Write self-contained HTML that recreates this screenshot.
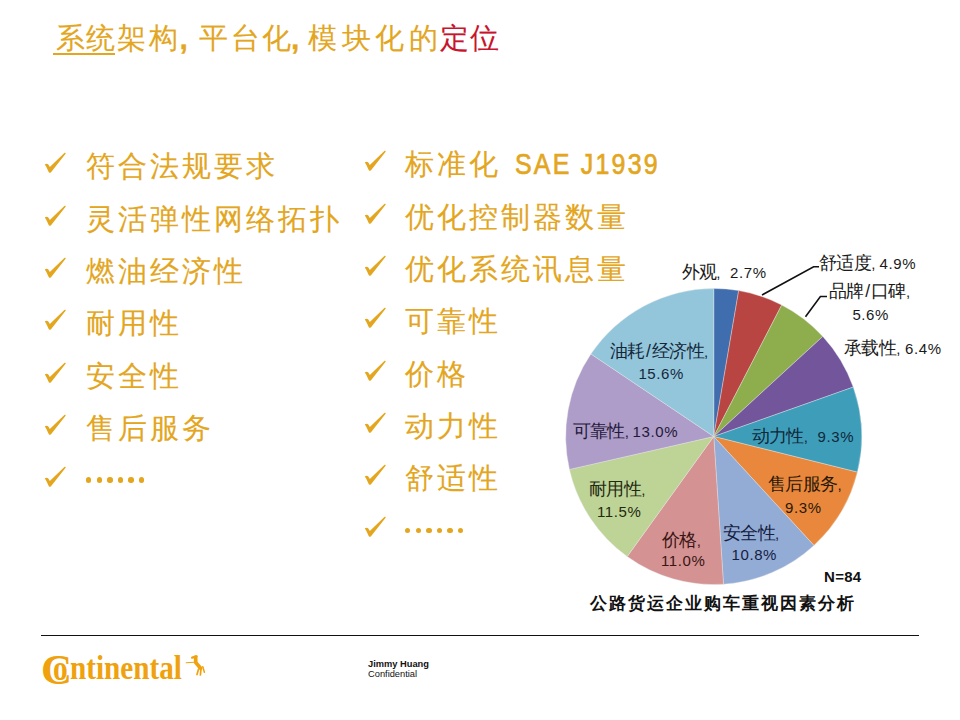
<!DOCTYPE html>
<html><head><meta charset="utf-8">
<style>
html,body{margin:0;padding:0;}
body{width:960px;height:720px;position:relative;overflow:hidden;background:#fff;font-family:"Liberation Sans",sans-serif;}
.a{position:absolute;}
.tc{position:absolute;top:20px;font-size:28.5px;line-height:36px;color:#E3A61E;white-space:nowrap;font-weight:500;-webkit-text-stroke:0.1px currentColor;}
.tc.red{color:#C8142C;}
.tc.cm{font-size:30px;font-weight:bold;top:21px;-webkit-text-stroke:0.3px currentColor;}
.ul{position:absolute;left:52.5px;top:53px;width:62.5px;height:1.6px;background:#E3A61E;}
.bt{position:absolute;font-size:29px;line-height:30px;letter-spacing:3.0px;color:#E3A61E;white-space:nowrap;font-weight:500;-webkit-text-stroke:0.12px #E3A61E;}
.bt .lat{display:inline-block;font-family:"Liberation Sans",sans-serif;font-size:29px;letter-spacing:2.6px;margin-left:14px;-webkit-text-stroke:0.7px #E3A61E;transform:scaleX(0.86);transform-origin:0 50%;}
.dots{position:absolute;height:6px;white-space:nowrap;}
.dots i{display:inline-block;width:5.4px;height:5.4px;border-radius:50%;background:#E3A61E;margin-right:5.2px;vertical-align:top;}
.pl{position:absolute;font-size:15px;line-height:22px;letter-spacing:0.6px;white-space:nowrap;}
.pl .cj{font-size:17.5px;letter-spacing:-0.6px;}
.pl .sl{margin:0 1.5px;}
.ptitle{position:absolute;left:590px;top:591.5px;font-size:17px;line-height:24px;letter-spacing:2.0px;font-weight:900;color:#111;white-space:nowrap;}
.n84{position:absolute;left:824px;top:567.5px;font-size:15px;line-height:18px;font-weight:bold;color:#111;letter-spacing:0.3px;}
.hr{position:absolute;left:41px;top:634.5px;width:878px;height:1.6px;background:#111;}
.logo{position:absolute;left:0;top:0;font-family:"Liberation Serif",serif;font-weight:bold;color:#EFA20E;white-space:nowrap;}
.lC{position:absolute;left:41px;top:648px;font-size:43px;line-height:43px;}
.lo{position:absolute;left:53px;top:651.5px;font-size:35px;line-height:34px;transform:scaleX(0.84);transform-origin:0 0;}
.lrest{position:absolute;left:70px;top:652px;font-size:33px;line-height:33px;transform:scaleX(0.885);transform-origin:0 0;}
.jh{position:absolute;left:368px;top:658.5px;font-size:9.3px;line-height:10.5px;color:#111;}
</style></head><body>
<span class="tc" style="left:55.5px">系</span>
<span class="tc" style="left:85.5px">统</span>
<span class="tc" style="left:117.0px">架</span>
<span class="tc" style="left:148.9px">构</span>
<span class="tc cm" style="left:179.6px">,</span>
<span class="tc" style="left:198.9px">平</span>
<span class="tc" style="left:231.2px">台</span>
<span class="tc" style="left:261.5px">化</span>
<span class="tc cm" style="left:291.0px">,</span>
<span class="tc" style="left:308.2px">模</span>
<span class="tc" style="left:341.5px">块</span>
<span class="tc" style="left:374.5px">化</span>
<span class="tc" style="left:408.5px">的</span>
<span class="tc red" style="left:439.5px">定</span>
<span class="tc red" style="left:469.5px">位</span>
<div class="ul"></div>
<svg class="a" style="left:44px;top:151.3px" width="24" height="24" viewBox="0 0 24 24"><path d="M0.8,13.4 C2.6,11.8 4.6,12.8 5.8,16 L20.6,1.8 C21.2,1.5 21.9,2.1 21.6,2.8 L8.2,19.8 C7.2,21.5 6,22.3 5,21.6 C4.1,20 2.6,15.6 0.8,13.4 Z" fill="#E3A61E"/></svg>
<div class="bt" style="left:86px;top:151.3px">符合法规要求</div>
<svg class="a" style="left:44px;top:203.6px" width="24" height="24" viewBox="0 0 24 24"><path d="M0.8,13.4 C2.6,11.8 4.6,12.8 5.8,16 L20.6,1.8 C21.2,1.5 21.9,2.1 21.6,2.8 L8.2,19.8 C7.2,21.5 6,22.3 5,21.6 C4.1,20 2.6,15.6 0.8,13.4 Z" fill="#E3A61E"/></svg>
<div class="bt" style="left:86px;top:203.6px">灵活弹性网络拓扑</div>
<svg class="a" style="left:44px;top:255.9px" width="24" height="24" viewBox="0 0 24 24"><path d="M0.8,13.4 C2.6,11.8 4.6,12.8 5.8,16 L20.6,1.8 C21.2,1.5 21.9,2.1 21.6,2.8 L8.2,19.8 C7.2,21.5 6,22.3 5,21.6 C4.1,20 2.6,15.6 0.8,13.4 Z" fill="#E3A61E"/></svg>
<div class="bt" style="left:86px;top:255.9px">燃油经济性</div>
<svg class="a" style="left:44px;top:308.2px" width="24" height="24" viewBox="0 0 24 24"><path d="M0.8,13.4 C2.6,11.8 4.6,12.8 5.8,16 L20.6,1.8 C21.2,1.5 21.9,2.1 21.6,2.8 L8.2,19.8 C7.2,21.5 6,22.3 5,21.6 C4.1,20 2.6,15.6 0.8,13.4 Z" fill="#E3A61E"/></svg>
<div class="bt" style="left:86px;top:308.2px">耐用性</div>
<svg class="a" style="left:44px;top:360.5px" width="24" height="24" viewBox="0 0 24 24"><path d="M0.8,13.4 C2.6,11.8 4.6,12.8 5.8,16 L20.6,1.8 C21.2,1.5 21.9,2.1 21.6,2.8 L8.2,19.8 C7.2,21.5 6,22.3 5,21.6 C4.1,20 2.6,15.6 0.8,13.4 Z" fill="#E3A61E"/></svg>
<div class="bt" style="left:86px;top:360.5px">安全性</div>
<svg class="a" style="left:44px;top:412.8px" width="24" height="24" viewBox="0 0 24 24"><path d="M0.8,13.4 C2.6,11.8 4.6,12.8 5.8,16 L20.6,1.8 C21.2,1.5 21.9,2.1 21.6,2.8 L8.2,19.8 C7.2,21.5 6,22.3 5,21.6 C4.1,20 2.6,15.6 0.8,13.4 Z" fill="#E3A61E"/></svg>
<div class="bt" style="left:86px;top:412.8px">售后服务</div>
<svg class="a" style="left:44px;top:465.1px" width="24" height="24" viewBox="0 0 24 24"><path d="M0.8,13.4 C2.6,11.8 4.6,12.8 5.8,16 L20.6,1.8 C21.2,1.5 21.9,2.1 21.6,2.8 L8.2,19.8 C7.2,21.5 6,22.3 5,21.6 C4.1,20 2.6,15.6 0.8,13.4 Z" fill="#E3A61E"/></svg>
<div class="dots" style="left:86px;top:477.4px"><i></i><i></i><i></i><i></i><i></i><i></i></div>
<svg class="a" style="left:364px;top:149.3px" width="24" height="24" viewBox="0 0 24 24"><path d="M0.8,13.4 C2.6,11.8 4.6,12.8 5.8,16 L20.6,1.8 C21.2,1.5 21.9,2.1 21.6,2.8 L8.2,19.8 C7.2,21.5 6,22.3 5,21.6 C4.1,20 2.6,15.6 0.8,13.4 Z" fill="#E3A61E"/></svg>
<div class="bt" style="left:405px;top:149.3px">标准化<span class="lat">SAE J1939</span></div>
<svg class="a" style="left:364px;top:201.6px" width="24" height="24" viewBox="0 0 24 24"><path d="M0.8,13.4 C2.6,11.8 4.6,12.8 5.8,16 L20.6,1.8 C21.2,1.5 21.9,2.1 21.6,2.8 L8.2,19.8 C7.2,21.5 6,22.3 5,21.6 C4.1,20 2.6,15.6 0.8,13.4 Z" fill="#E3A61E"/></svg>
<div class="bt" style="left:405px;top:201.6px">优化控制器数量</div>
<svg class="a" style="left:364px;top:253.9px" width="24" height="24" viewBox="0 0 24 24"><path d="M0.8,13.4 C2.6,11.8 4.6,12.8 5.8,16 L20.6,1.8 C21.2,1.5 21.9,2.1 21.6,2.8 L8.2,19.8 C7.2,21.5 6,22.3 5,21.6 C4.1,20 2.6,15.6 0.8,13.4 Z" fill="#E3A61E"/></svg>
<div class="bt" style="left:405px;top:253.9px">优化系统讯息量</div>
<svg class="a" style="left:364px;top:306.2px" width="24" height="24" viewBox="0 0 24 24"><path d="M0.8,13.4 C2.6,11.8 4.6,12.8 5.8,16 L20.6,1.8 C21.2,1.5 21.9,2.1 21.6,2.8 L8.2,19.8 C7.2,21.5 6,22.3 5,21.6 C4.1,20 2.6,15.6 0.8,13.4 Z" fill="#E3A61E"/></svg>
<div class="bt" style="left:405px;top:306.2px">可靠性</div>
<svg class="a" style="left:364px;top:358.5px" width="24" height="24" viewBox="0 0 24 24"><path d="M0.8,13.4 C2.6,11.8 4.6,12.8 5.8,16 L20.6,1.8 C21.2,1.5 21.9,2.1 21.6,2.8 L8.2,19.8 C7.2,21.5 6,22.3 5,21.6 C4.1,20 2.6,15.6 0.8,13.4 Z" fill="#E3A61E"/></svg>
<div class="bt" style="left:405px;top:358.5px">价格</div>
<svg class="a" style="left:364px;top:410.8px" width="24" height="24" viewBox="0 0 24 24"><path d="M0.8,13.4 C2.6,11.8 4.6,12.8 5.8,16 L20.6,1.8 C21.2,1.5 21.9,2.1 21.6,2.8 L8.2,19.8 C7.2,21.5 6,22.3 5,21.6 C4.1,20 2.6,15.6 0.8,13.4 Z" fill="#E3A61E"/></svg>
<div class="bt" style="left:405px;top:410.8px">动力性</div>
<svg class="a" style="left:364px;top:463.1px" width="24" height="24" viewBox="0 0 24 24"><path d="M0.8,13.4 C2.6,11.8 4.6,12.8 5.8,16 L20.6,1.8 C21.2,1.5 21.9,2.1 21.6,2.8 L8.2,19.8 C7.2,21.5 6,22.3 5,21.6 C4.1,20 2.6,15.6 0.8,13.4 Z" fill="#E3A61E"/></svg>
<div class="bt" style="left:405px;top:463.1px">舒适性</div>
<svg class="a" style="left:364px;top:515.4px" width="24" height="24" viewBox="0 0 24 24"><path d="M0.8,13.4 C2.6,11.8 4.6,12.8 5.8,16 L20.6,1.8 C21.2,1.5 21.9,2.1 21.6,2.8 L8.2,19.8 C7.2,21.5 6,22.3 5,21.6 C4.1,20 2.6,15.6 0.8,13.4 Z" fill="#E3A61E"/></svg>
<div class="dots" style="left:405px;top:527.7px"><i></i><i></i><i></i><i></i><i></i><i></i></div>
<svg class="a" style="left:0;top:0" width="960" height="720" viewBox="0 0 960 720">
<g stroke="rgba(235,235,235,0.55)" stroke-width="0.7">
<path d="M713.75,436.5 L713.75,288.50 A148,148 0 0 1 738.71,290.62 Z" fill="#3F6DAD"/>
<path d="M713.75,436.5 L738.71,290.62 A148,148 0 0 1 781.71,305.02 Z" fill="#B84542"/>
<path d="M713.75,436.5 L781.71,305.02 A148,148 0 0 1 822.82,336.46 Z" fill="#8EAE4E"/>
<path d="M713.75,436.5 L822.82,336.46 A148,148 0 0 1 853.25,387.07 Z" fill="#72559B"/>
<path d="M713.75,436.5 L853.25,387.07 A148,148 0 0 1 857.39,472.14 Z" fill="#3E9EBA"/>
<path d="M713.75,436.5 L857.39,472.14 A148,148 0 0 1 813.96,545.41 Z" fill="#E9883C"/>
<path d="M713.75,436.5 L813.96,545.41 A148,148 0 0 1 723.50,584.18 Z" fill="#92ACD6"/>
<path d="M713.75,436.5 L723.50,584.18 A148,148 0 0 1 627.21,556.56 Z" fill="#D49292"/>
<path d="M713.75,436.5 L627.21,556.56 A148,148 0 0 1 569.46,469.43 Z" fill="#BED396"/>
<path d="M713.75,436.5 L569.46,469.43 A148,148 0 0 1 590.90,353.96 Z" fill="#AD9DC8"/>
<path d="M713.75,436.5 L590.90,353.96 A148,148 0 0 1 713.75,288.50 Z" fill="#93C6DA"/>
</g>
<polyline points="762,295 813.6,266.7 819,266.7" fill="none" stroke="#111" stroke-width="1.6"/>
<polyline points="805.5,316.8 820.4,296.5 827,296.5" fill="none" stroke="#111" stroke-width="1.6"/>
</svg>
<div class="pl" style="left:681.5px;top:261.0px;color:#1a1a1a"><span class="cj">外观</span><span class="cm" style="margin-right:9px">,</span>2.7%</div>
<div class="pl" style="left:819.0px;top:251.6px;color:#1a1a1a"><span class="cj">舒适度</span><span class="cm" style="margin-right:3.5px">,</span>4.9%</div>
<div class="pl" style="left:829.0px;top:280.0px;color:#1a1a1a"><span class="cj">品牌<span class=sl>/</span>口碑</span><span class="cm" style="margin-right:0px">,</span></div>
<div class="pl" style="left:852.4px;top:303.9px;color:#1a1a1a">5.6%</div>
<div class="pl" style="left:844.0px;top:337.0px;color:#1a1a1a"><span class="cj">承载性</span><span class="cm" style="margin-right:4px">,</span>6.4%</div>
<div class="pl" style="left:609.7px;top:340.4px;color:#15283a"><span class="cj">油耗<span class=sl>/</span>经济性</span><span class="cm" style="margin-right:0px">,</span></div>
<div class="pl" style="left:638.4px;top:362.8px;color:#15283a">15.6%</div>
<div class="pl" style="left:572.6px;top:420.0px;color:#25183a"><span class="cj">可靠性</span><span class="cm" style="margin-right:3px">,</span>13.0%</div>
<div class="pl" style="left:751.5px;top:425.0px;color:#10283a"><span class="cj">动力性</span><span class="cm" style="margin-right:9px">,</span>9.3%</div>
<div class="pl" style="left:767.8px;top:472.8px;color:#2a1808"><span class="cj">售后服务</span><span class="cm" style="margin-right:0px">,</span></div>
<div class="pl" style="left:785.0px;top:496.5px;color:#2a1808">9.3%</div>
<div class="pl" style="left:722.8px;top:521.5px;color:#152040"><span class="cj">安全性</span><span class="cm" style="margin-right:0px">,</span></div>
<div class="pl" style="left:731.5px;top:544.0px;color:#152040">10.8%</div>
<div class="pl" style="left:662.0px;top:528.8px;color:#3a1515"><span class="cj">价格</span><span class="cm" style="margin-right:0px">,</span></div>
<div class="pl" style="left:661.0px;top:550.0px;color:#3a1515">11.0%</div>
<div class="pl" style="left:589.0px;top:478.0px;color:#1f2a12"><span class="cj">耐用性</span><span class="cm" style="margin-right:0px">,</span></div>
<div class="pl" style="left:597.0px;top:500.6px;color:#1f2a12">11.5%</div>
<div class="n84">N=84</div>
<div class="ptitle">公路货运企业购车重视因素分析</div>
<div class="hr"></div>
<div class="logo">
<span class="lC">C</span><span class="lo">o</span><span class="lrest">ntinental</span>
<svg class="a" style="left:184px;top:654px" width="24" height="24" viewBox="0 0 24 24"><g fill="none" stroke="#EFA20E" stroke-linecap="round" stroke-linejoin="round"><path d="M8.2,3.6 L12.6,2.4" stroke-width="2.4"/><path d="M11.6,3.2 L11.8,8.6 L16.6,14.2" stroke-width="3.7"/><path d="M14.6,15 L13,20.6 M17,15.2 L16.4,21" stroke-width="1.7"/><path d="M18.8,12.8 L20.4,18.2" stroke-width="1.5"/><path d="M2.2,8.8 L10.5,8.3" stroke-width="1.1"/></g></svg>
</div>
<div class="jh"><b>Jimmy Huang</b><br>Confidential</div>
</body></html>
